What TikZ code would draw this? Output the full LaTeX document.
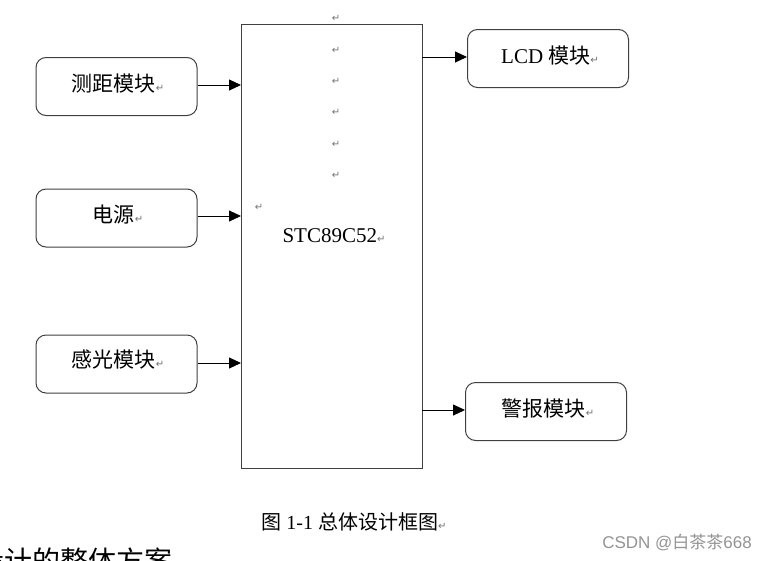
\documentclass[tikz,border=0pt]{standalone}
\usepackage{fontspec}
\setmainfont{Liberation Serif}
\newfontfamily\cjk{Noto Sans CJK SC}
\newfontfamily\symf{DejaVu Sans}
\newfontfamily\wmf{Liberation Sans}
\usetikzlibrary{arrows.meta}
\tikzset{
  module/.style={draw=black!75, line width=1pt, rounded corners=10pt, minimum width=161pt, minimum height=58pt, inner sep=0pt},
  mcu/.style={draw=black!75, line width=1pt, minimum width=181pt, minimum height=444pt, inner sep=0pt},
  conn/.style={line width=0.9pt, -{Triangle[length=12pt,width=11pt]}},
  pmark/.style={text=black!55, font=\symf\fontsize{10}{10}\selectfont, inner sep=0pt},
  label/.style={font=\fontsize{21}{21}\selectfont, inner sep=0pt}
}
\newcommand{\parmark}{{\color{black!55}\symf\fontsize{10}{10}\selectfont ↵}}
\begin{document}
\begin{tikzpicture}[x=1pt,y=-1pt]
\useasboundingbox (0,0) rectangle (768,560);
\clip (0,0) rectangle (768,560);
\fill[white] (0,0) rectangle (768,560);
% main block
\node[mcu] (mcu) at (331.5,246) {};
\node[label] (stc) at (334,236) {STC89C52\parmark};
% paragraph marks
\foreach \yy [count=\i] in {18,50,81,112,144,175} {
  \node[pmark] (pm\i) at (336,\yy) {↵};
}
\node[pmark] (pm7) at (259,207) {↵};
% left modules
\node[module] (ranging) at (116.5,86.5) {};
\node[label] (rangingt) at (118,84) {\cjk 测距模块\parmark};
\node[module] (power) at (116.5,218) {};
\node[label] (powert) at (118,215) {\cjk 电源\parmark};
\node[module] (light) at (116.5,364) {};
\node[label] (lightt) at (118,360) {\cjk 感光模块\parmark};
% right modules
\node[module] (lcd) at (548,58.5) {};
\node[label] (lcdt) at (550,56) {LCD {\cjk 模块}\parmark};
\node[module] (alarm) at (546,411.5) {};
\node[label] (alarmt) at (548,409) {\cjk 警报模块\parmark};
% connectors
\coordinate (a1) at (241,85);
\coordinate (a2) at (241,216);
\coordinate (a3) at (241,363);
\draw[conn] (ranging.east |- a1) -- (a1);
\draw[conn] (power.east |- a2) -- (a2);
\draw[conn] (light.east |- a3) -- (a3);
\coordinate (b1) at (422,57);
\coordinate (b2) at (422,410);
\draw[conn] (b1) -- (lcd.west |- b1);
\draw[conn] (b2) -- (alarm.west |- b2);
% caption
\node[label, font=\fontsize{20}{20}\selectfont] (cap) at (354,522) {{\cjk 图} 1-1 {\cjk 总体设计框图}\parmark};
% cut-off heading
\node[anchor=west, inner sep=0pt, font=\cjk\fontsize{28}{28}\selectfont] (head) at (-24,561) {设计的整体方案};
% watermark
\node[inner sep=0pt, text=black!42, font=\fontsize{17}{17}\selectfont] (wm) at (677,542) {\wmf CSDN @{\cjk 白茶茶}668};
\end{tikzpicture}
\end{document}
